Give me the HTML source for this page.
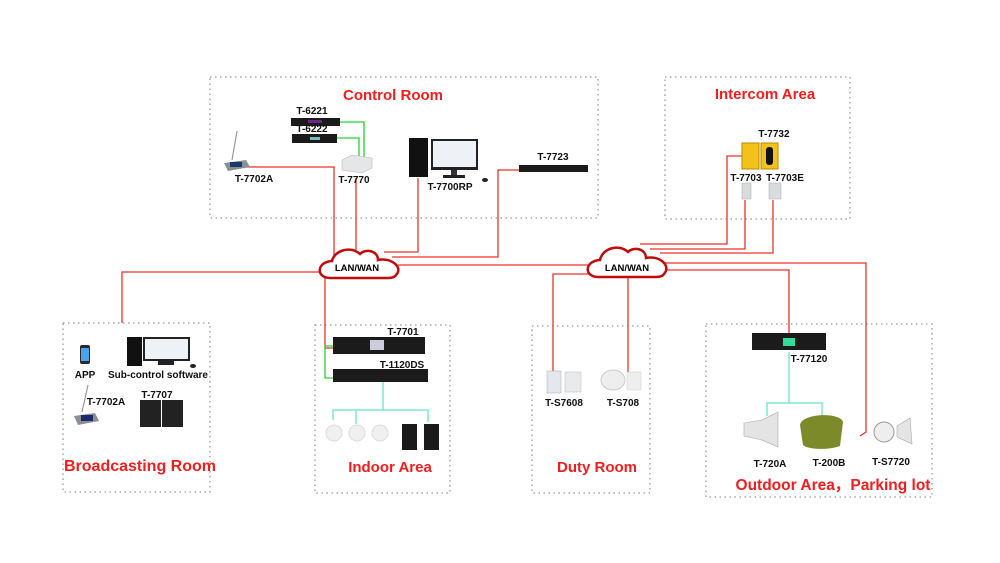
<!DOCTYPE html>
<html><head><meta charset="utf-8"><style>
html,body{margin:0;padding:0;background:#fff;}
svg{display:block;}
text{font-family:"Liberation Sans",sans-serif;font-weight:bold;}
.l{font-size:10px;fill:#111;text-anchor:middle;}
.t{font-size:15px;fill:#f41c1c;text-anchor:middle;}
.b{fill:none;stroke:#999;stroke-width:1.3;stroke-dasharray:1.5 3.5;}
.r{fill:none;stroke:#f0302a;stroke-width:1.3;}
.g{fill:none;stroke:#22d62a;stroke-width:1.3;}
.c{fill:none;stroke:#7fe8cf;stroke-width:1.5;}
.cl{fill:#fff;stroke:#c00c0c;stroke-width:2.5;}
</style></head><body>
<svg width="1000" height="563" viewBox="0 0 1000 563">
<!-- boxes -->
<rect class="b" x="210" y="77" width="388" height="141"/>
<rect class="b" x="665" y="77" width="185" height="142"/>
<rect class="b" x="63" y="323" width="147" height="169"/>
<rect class="b" x="315" y="325" width="135" height="168"/>
<rect class="b" x="532" y="326" width="118" height="167"/>
<rect class="b" x="706" y="324" width="226" height="173"/>

<!-- red lines -->
<polyline class="r" points="244,167 334,167 334,258"/>
<polyline class="r" points="356,178 356,250"/>
<polyline class="r" points="418,178 418,252 384,252"/>
<polyline class="r" points="520,170 498,170 498,257 392,257"/>
<polyline class="r" points="398,265 590,265"/>
<polyline class="r" points="320,272 122,272 122,323"/>
<polyline class="r" points="325,278 325,348 334,348"/>
<polyline class="r" points="742,156 727,156 727,244 640,244"/>
<polyline class="r" points="745,200 745,249 650,249"/>
<polyline class="r" points="773,200 773,253 660,253"/>
<polyline class="r" points="664,263 866,263 866,432 860,436"/>
<polyline class="r" points="666,270 789,270 789,336"/>
<polyline class="r" points="592,274 553,274 553,372"/>
<polyline class="r" points="628,278 628,372"/>

<!-- green -->
<polyline class="g" points="338,122 364,122 364,168"/>
<polyline class="g" points="336,138 359,138 359,168"/>
<polyline class="g" points="334,346 325,346 325,378 334,378"/>

<!-- cyan -->
<polyline class="c" points="383,382 383,410"/>
<polyline class="c" points="333,420 333,410 428,410 428,422"/>
<polyline class="c" points="356,410 356,424 M379,410 379,424 M405,410 405,422"/>
<polyline class="c" points="789,352 789,403"/>
<polyline class="c" points="767,416 767,403 822,403 822,416"/>

<!-- clouds -->
<g transform="translate(318,247)"><path class="cl" d="M12,31 C-2,31 -2,15 14,14 C16,4 32,-2 42,7 C48,1 60,4 60,13 C72,10 86,20 78,28 C76,31 72,31 68,31 Z"/><text x="39" y="24" style="font-size:9.5px" text-anchor="middle">LAN/WAN</text></g>
<g transform="translate(586,245)"><path class="cl" d="M12,32 C-2,32 -2,16 14,15 C16,4 32,-2 42,7 C48,1 60,4 60,13 C72,10 86,20 78,29 C76,32 72,32 68,32 Z"/><text x="41" y="26" style="font-size:9.5px" text-anchor="middle">LAN/WAN</text></g>

<!-- Control room devices -->
<line x1="232" y1="160" x2="237" y2="131" stroke="#999" stroke-width="1.2"/>
<path d="M224,163 L246,160 L250,167 L228,171 Z" fill="#8a8f96"/><rect x="230" y="162" width="12" height="5" fill="#1a3a6a"/>
<rect x="291" y="118" width="49" height="8" fill="#1b1b1b"/><rect x="308" y="120" width="14" height="3" fill="#6a2a8a"/>
<rect x="292" y="134" width="45" height="9" fill="#1b1b1b"/><rect x="310" y="137" width="10" height="3" fill="#7bb"/>
<path d="M342,160 L352,155 L372,158 L372,168 L362,173 L342,170 Z" fill="#e4e6e8" stroke="#bbb" stroke-width=".6"/>
<rect x="409" y="138" width="19" height="39" fill="#111"/>
<rect x="431" y="139" width="47" height="31" fill="#222"/><rect x="433" y="141" width="43" height="26" fill="#eef2f6"/>
<rect x="451" y="170" width="6" height="5" fill="#333"/><rect x="443" y="175" width="22" height="3" fill="#222"/>
<ellipse cx="485" cy="180" rx="3" ry="2" fill="#222"/>
<rect x="519" y="165" width="69" height="7" fill="#1b1b1b"/>
<!-- intercom -->
<rect x="742" y="143" width="17" height="26" fill="#f3c21a" stroke="#b88a00"/>
<rect x="761" y="143" width="17" height="26" fill="#f3c21a" stroke="#b88a00"/>
<rect x="766" y="147" width="7" height="18" rx="3" fill="#111"/>
<rect x="742" y="183" width="9" height="16" fill="#d8dcdc" stroke="#aaa" stroke-width=".5"/>
<rect x="769" y="183" width="12" height="16" fill="#d8dcdc" stroke="#aaa" stroke-width=".5"/>
<!-- broadcasting -->
<rect x="80" y="345" width="10" height="19" rx="2" fill="#2a2a2a"/><rect x="81" y="348" width="8" height="13" fill="#4aa3f0"/>
<rect x="127" y="337" width="15" height="29" fill="#111"/>
<rect x="143" y="337" width="47" height="24" fill="#222"/><rect x="145" y="339" width="43" height="20" fill="#eef2f6"/>
<rect x="158" y="361" width="16" height="4" fill="#222"/><ellipse cx="193" cy="366" rx="3" ry="2" fill="#222"/>
<line x1="82" y1="412" x2="88" y2="385" stroke="#999" stroke-width="1.2"/>
<path d="M74,416 L95,413 L99,421 L78,425 Z" fill="#8a8f96"/><rect x="81" y="415" width="12" height="6" fill="#1a2a6a"/>
<rect x="140" y="400" width="21" height="27" fill="#222"/><rect x="162" y="400" width="21" height="27" fill="#222"/>
<!-- indoor -->
<rect x="333" y="337" width="92" height="17" fill="#1b1b1b"/><rect x="370" y="340" width="14" height="10" fill="#ccd"/>
<rect x="333" y="369" width="95" height="13" fill="#1b1b1b"/>
<circle cx="334" cy="433" r="8" fill="#f0f0f0" stroke="#ddd"/><circle cx="357" cy="433" r="8" fill="#f0f0f0" stroke="#ddd"/><circle cx="380" cy="433" r="8" fill="#f0f0f0" stroke="#ddd"/>
<rect x="402" y="424" width="15" height="26" fill="#1a1a1a"/><rect x="424" y="424" width="15" height="26" fill="#1a1a1a"/>
<!-- duty -->
<rect x="547" y="371" width="14" height="22" fill="#e4e8ec" stroke="#aaa" stroke-width=".5"/><rect x="565" y="372" width="16" height="20" fill="#e8eaec" stroke="#bbb" stroke-width=".5"/>
<ellipse cx="613" cy="380" rx="12" ry="10" fill="#eee" stroke="#ccc"/><rect x="627" y="372" width="14" height="18" fill="#eee" stroke="#ccc" stroke-width=".5"/>
<!-- outdoor -->
<rect x="752" y="333" width="74" height="17" fill="#1b1b1b"/><rect x="783" y="338" width="12" height="8" fill="#3d9"/>
<path d="M744,423 L762,420 L778,412 L778,447 L762,440 L744,436 Z" fill="#e4e4e4" stroke="#aaa" stroke-width=".6"/>
<path d="M800,425 C802,413 840,412 843,422 L840,446 C830,450 808,450 803,445 Z" fill="#7c8a2a"/>
<circle cx="884" cy="432" r="10" fill="#eee" stroke="#999"/><path d="M897,426 L910,418 L912,444 L897,437 Z" fill="#e4e4e4" stroke="#aaa" stroke-width=".6"/>

<!-- labels -->
<text class="l" x="312" y="114">T-6221</text>
<text class="l" x="312" y="132">T-6222</text>
<text class="l" x="254" y="182">T-7702A</text>
<text class="l" x="354" y="183">T-7770</text>
<text class="l" x="450" y="190">T-7700RP</text>
<text class="l" x="553" y="160">T-7723</text>
<text class="l" x="774" y="137">T-7732</text>
<text class="l" x="746" y="181">T-7703</text>
<text class="l" x="785" y="181">T-7703E</text>
<text class="l" x="85" y="378">APP</text>
<text class="l" x="158" y="378">Sub-control software</text>
<text class="l" x="106" y="405">T-7702A</text>
<text class="l" x="157" y="398">T-7707</text>
<text class="l" x="403" y="335">T-7701</text>
<text class="l" x="402" y="368">T-1120DS</text>
<text class="l" x="564" y="406">T-S7608</text>
<text class="l" x="623" y="406">T-S708</text>
<text class="l" x="809" y="362">T-77120</text>
<text class="l" x="770" y="467">T-720A</text>
<text class="l" x="829" y="466">T-200B</text>
<text class="l" x="891" y="465">T-S7720</text>

<text class="t" x="393" y="100">Control Room</text>
<text class="t" x="765" y="99">Intercom Area</text>
<text class="t" x="140" y="471" style="font-size:16px">Broadcasting Room</text>
<text class="t" x="390" y="472">Indoor Area</text>
<text class="t" x="597" y="472">Duty Room</text>
<text class="t" x="833" y="490" style="font-size:15.5px">Outdoor Area，Parking lot</text>
</svg>
</body></html>
